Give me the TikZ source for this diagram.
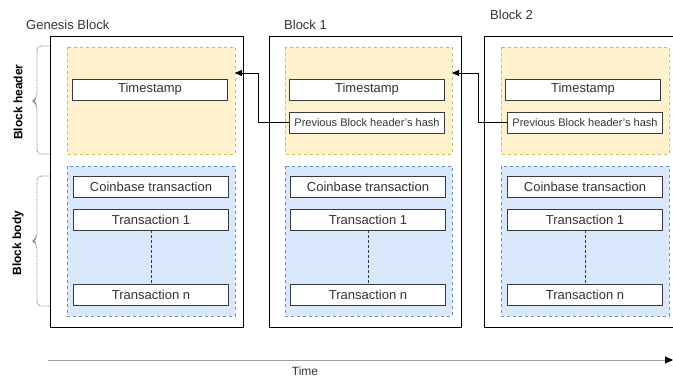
\documentclass[tikz,border=0pt]{standalone}
\usepackage{fontspec}
\setmainfont{Liberation Sans}
\usetikzlibrary{arrows.meta,positioning}
\definecolor{hdrfill}{HTML}{FFF2CC}
\definecolor{hdrline}{HTML}{D6B656}
\definecolor{bodyfill}{HTML}{DAE8FC}
\definecolor{bodyline}{HTML}{6C8EBF}
\definecolor{txt}{HTML}{333333}
\definecolor{boxline}{HTML}{36393D}
\definecolor{timeline}{HTML}{A0A0A0}
\definecolor{braceline}{HTML}{808080}
\begin{document}
\begin{tikzpicture}[x=1pt,y=-1pt,
  outer/.style={draw=black,fill=white,line width=0.9pt},
  hdr/.style={draw=hdrline,fill=hdrfill,dashed,dash pattern=on 3pt off 3pt,line width=0.6pt},
  bdy/.style={draw=bodyline,fill=bodyfill,dashed,dash pattern=on 3pt off 3pt,line width=0.6pt},
  field/.style={draw=boxline,fill=white,line width=0.9pt,minimum width=155pt,minimum height=21pt,inner sep=0pt,text=txt,font=\fontsize{13}{15}\selectfont},
  hashfield/.style={field,font=\fontsize{11}{13}\selectfont},
  title/.style={text=txt,font=\fontsize{13}{15}\selectfont,inner sep=0pt,anchor=west},
  side/.style={font=\bfseries\fontsize{12}{14}\selectfont,rotate=90,inner sep=0pt},
  brace/.style={draw=braceline,dash pattern=on 1pt off 0.8pt,line width=0.8pt,rounded corners=4pt},
  link/.style={draw=black,line width=0.8pt,-{Triangle[length=7pt,width=6pt]}}
]
\useasboundingbox (0,0) rectangle (673,380);
\clip (0,0) rectangle (673,380);

% titles
\node[title] (t0) at (26,25) {Genesis Block};
\node[title] (t1) at (284,25) {Block 1};
\node[title] (t2) at (490,15) {Block 2};

% outer blocks
\draw[outer] (50,36) rectangle (243,327);
\draw[outer] (269,36) rectangle (461,327);
\draw[outer] (484,36) rectangle (690,327);

% headers and bodies
\draw[hdr] (67,47) rectangle (235,154);
\draw[hdr] (285,47) rectangle (452,154);
\draw[hdr] (501,47) rectangle (669,154);
\draw[bdy] (67,166) rectangle (235,316);
\draw[bdy] (285,166) rectangle (452,316);
\draw[bdy] (501,166) rectangle (669,316);

% anchor coordinates for incoming links
\coordinate (in0) at (235,73);
\coordinate (in1) at (452,73);

% fields, block 0
\node[field] (ts0) at (150,89.5) {Timestamp};
\node[field] (cb0) at (151,186.5) {Coinbase transaction};
\node[field] (ta0) at (151,219.5) {Transaction 1};
\node[field] (tn0) at (151,295) {Transaction n};
% block 1
\node[field] (ts1) at (367,89.5) {Timestamp};
\node[hashfield] (h1) at (367,122.5) {Previous Block header's hash};
\node[field] (cb1) at (368,186.5) {Coinbase transaction};
\node[field] (ta1) at (368,219.5) {Transaction 1};
\node[field] (tn1) at (368,295) {Transaction n};
% block 2
\node[field] (ts2) at (583,89.5) {Timestamp};
\node[hashfield] (h2) at (585,122.5) {Previous Block header's hash};
\node[field] (cb2) at (585,186.5) {Coinbase transaction};
\node[field] (ta2) at (585,219.5) {Transaction 1};
\node[field] (tn2) at (585,295) {Transaction n};

% dashed continuations
\foreach \i in {0,1,2}{
  \draw[boxline,dashed,dash pattern=on 3pt off 2pt,line width=0.8pt] (ta\i.south) -- (tn\i.north);
}

% hash links
\draw[link] (h1.west) -- (258,122.5) |- (in0);
\draw[link] (h2.west) -- (478,122.5) |- (in1);

% braces
\draw[brace] (50,46) -- (37,46) -- (37,97) -- (33,101) -- (37,105) -- (37,154) -- (50,154);
\draw[brace] (50,176) -- (37,176) -- (37,237) -- (33,241) -- (37,245) -- (37,306) -- (50,306);
\node[side] (lh) at (18,102) {Block header};
\node[side] (lb) at (18,243) {Block body};

% time axis
\coordinate (ts) at (48,360);
\coordinate (te) at (673,360);
\draw[timeline,line width=1pt,-{Triangle[length=8pt,width=7pt,fill=black,color=black]}] (ts) -- (te);
\node[text=txt,font=\fontsize{12}{14}\selectfont,inner sep=0pt] (tl) at (305,371) {Time};
\end{tikzpicture}
\end{document}
